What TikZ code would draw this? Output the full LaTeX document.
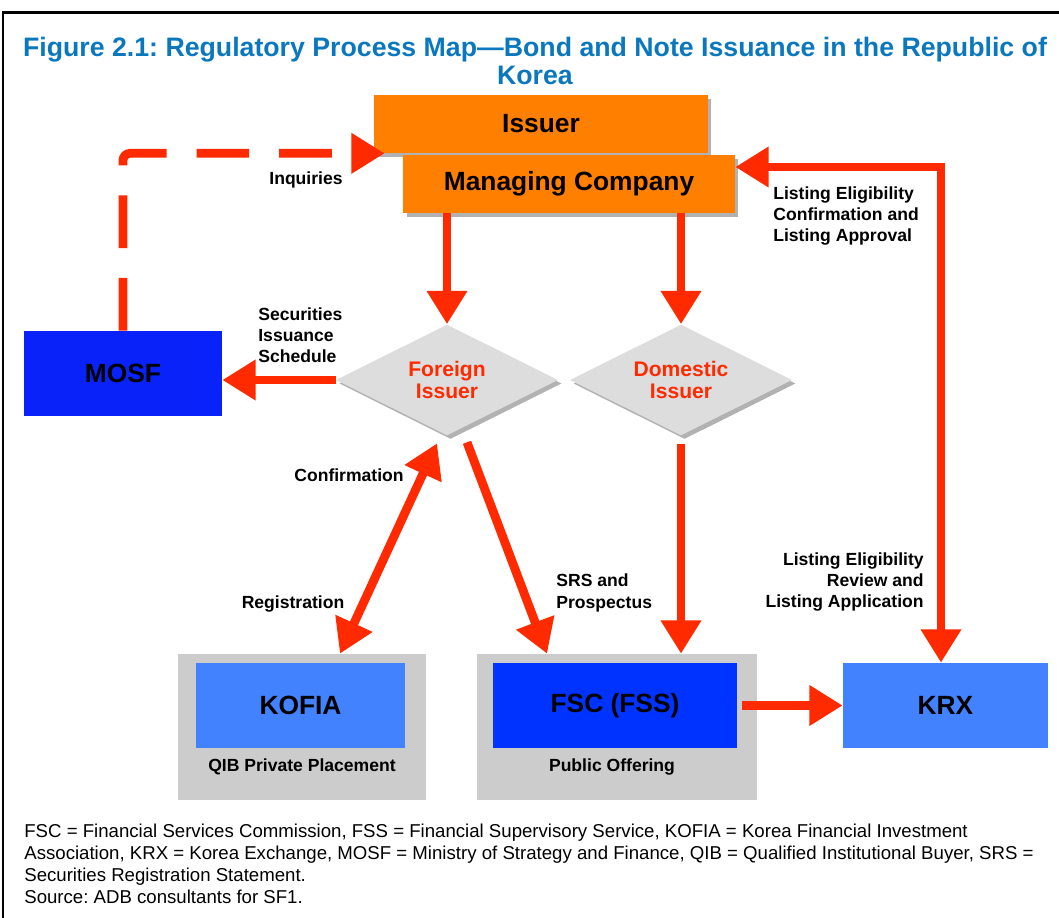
\documentclass[tikz,border=0pt]{standalone}
\usepackage{fontspec}
\setmainfont{Liberation Sans}
\usetikzlibrary{arrows.meta,shapes.geometric,shadows}
\definecolor{bleutitre}{HTML}{0B78BE}
\definecolor{orangeboite}{HTML}{FF7F00}
\definecolor{rougefleche}{HTML}{FF2A00}
\definecolor{bleufonce}{HTML}{0A22FA}
\definecolor{bleufsc}{HTML}{0033FF}
\definecolor{bleuclair}{HTML}{4282FF}
\definecolor{grisfond}{HTML}{CCCCCC}
\definecolor{grislosange}{HTML}{DDDDDD}
\frenchspacing
\begin{document}
\begin{tikzpicture}[x=0.02cm,y=-0.02cm,
  ombre/.style={drop shadow={shadow xshift=2pt,shadow yshift=-2pt,opacity=0.3,fill=black}},
  orange/.style={fill=orangeboite,ombre,minimum height=1.16cm,inner sep=0,font=\fontsize{15}{18}\selectfont\bfseries},
  losange/.style={diamond,aspect=2,fill=grislosange,ombre,inner sep=0,minimum width=4.44cm,minimum height=2.22cm,
    text=rougefleche,align=center,font=\fontsize{12}{13}\selectfont\bfseries},
  bleu/.style={minimum height=1.7cm,inner sep=0,font=\fontsize{15}{18}\selectfont\bfseries},
  fond/.style={fill=grisfond,minimum width=#1,minimum height=2.92cm,inner sep=0},
  etiquette/.style={inner sep=0,align=left,font=\fontsize{10}{12}\selectfont\bfseries},
  pointe/.tip={Triangle[length=19pt,width=22pt]},
  fleche/.style={draw=rougefleche,line width=5pt,-pointe}]
  \useasboundingbox (0,0) rectangle (1059,918);
  \draw[line width=1.7pt] (1059,13) -- (3,13) -- (3,918);
  \node[text=bleutitre,align=center,font=\fontsize{15.2}{16}\selectfont\bfseries] (titre) at (535,61)
    {Figure 2.1: Regulatory Process Map---Bond and Note Issuance in the Republic of\\Korea};
  \node[orange,minimum width=6.68cm] (issuer) at (541,124) {Issuer};
  \node[orange,minimum width=6.64cm] (mc) at (569,184) {Managing Company};
  \node[bleu,fill=bleufonce,minimum width=3.96cm] (mosf) at (123,373.5) {MOSF};
  \node[losange] (fi) at (447,380) {Foreign\\Issuer};
  \node[losange] (di) at (681,380) {Domestic\\Issuer};
  \node[fond=4.96cm] (kofiabox) at (302,727) {};
  \node[fond=5.6cm] (fscbox) at (617,727) {};
  \node[bleu,fill=bleuclair,minimum width=4.18cm] (kofia) at (300.5,705.5) {KOFIA};
  \node[bleu,fill=bleufsc,minimum width=4.88cm] (fsc) at (615,705.5) {FSC (FSS)};
  \node[bleu,fill=bleuclair,minimum width=4.1cm] (krx) at (945.5,705.5) {KRX};
  \node[etiquette] (qib) at (302,767) {QIB Private Placement};
  \node[etiquette] (public) at (612,767) {Public Offering};
  \node[etiquette] (inquiries) at (306,180) {Inquiries};
  \node[etiquette,anchor=west] (confapp) at (773,216) {Listing Eligibility\\Confirmation and\\Listing Approval};
  \node[etiquette,anchor=west] (schedule) at (258,335) {Securities\\Issuance\\Schedule};
  \node[etiquette] (confirmation) at (349,475) {Confirmation};
  \node[etiquette] (registration) at (293,604) {Registration};
  \node[etiquette,anchor=west] (srs) at (556,593) {SRS and\\Prospectus};
  \node[etiquette,anchor=east,align=right] (review) at (924,582) {Listing Eligibility\\Review and\\Listing Application};
  \draw[fleche,dash pattern=on 30pt off 17pt,rounded corners=4pt] (mosf.north) |- ([xshift=0.22cm]issuer.south west);
  \draw[fleche] (mc.south -| fi.north) -- (fi.north);
   \draw[fleche] (mc.south -| di.north) -- (di.north);
  \draw[fleche] (fi.west) -- (fi.west -| mosf.east);
  \draw[fleche,pointe-pointe] ([xshift=-0.2cm,yshift=-0.15cm]fi.south) -- ([xshift=0.76cm]kofiabox.north);
  \draw[fleche] ([xshift=0.4cm,yshift=-0.13cm]fi.south) -- ([xshift=-1.4cm]fscbox.north);
    \draw[fleche,shorten <=0.16cm] (di.south) -- (di.south |- fscbox.north);
  \draw[fleche,shorten <=0.1cm] (fsc.east) -- (krx.west);
  \draw[fleche,pointe-pointe] ([yshift=0.34cm]mc.east) -| ([xshift=-0.09cm]krx.north);
  \node[anchor=north west,inner sep=0,align=left,font=\fontsize{10.6}{12.5}\selectfont] (notes) at (24,824)
    {FSC = Financial Services Commission, FSS = Financial Supervisory Service, KOFIA = Korea Financial Investment\\
     Association, KRX = Korea Exchange, MOSF = Ministry of Strategy and Finance, QIB = Qualified Institutional Buyer, SRS =\\
     Securities Registration Statement.\\
     Source: ADB consultants for SF1.};
\end{tikzpicture}
\end{document}
